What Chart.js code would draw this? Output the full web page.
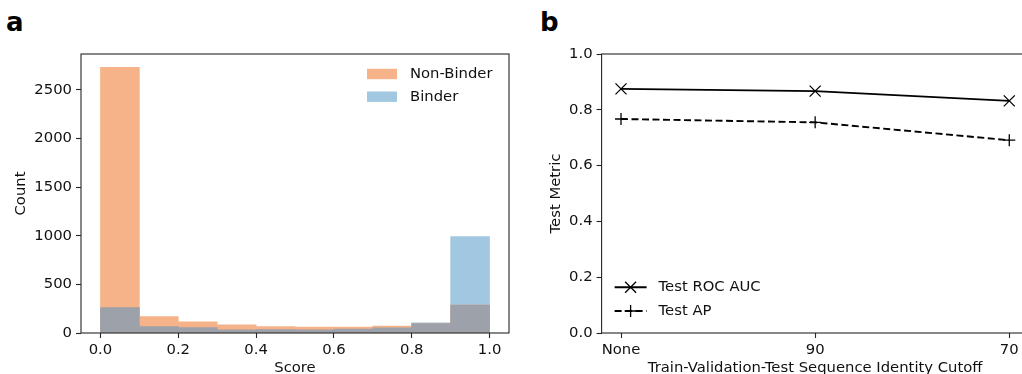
<!DOCTYPE html>
<html>
<head>
<meta charset="utf-8">
<script src="https://cdn.jsdelivr.net/npm/chart.js@4.4.0/dist/chart.umd.min.js"></script>
<style>
  body { margin: 0; width: 1022px; height: 374px; overflow: hidden; position: relative; background: #fff; }
  canvas { position: absolute; top: 0; }
  #hist { left: 0; }
  #metrics { left: 530px; }
  .panel { position: absolute; top: 9px; font: bold 26px/26px 'DejaVu Sans', sans-serif; color: #000; }
</style>
</head>
<body>
<div class="panel" style="left:6px">a</div>
<div class="panel" style="left:540px">b</div>
<canvas id="hist" width="520" height="390"></canvas>
<canvas id="metrics" width="510" height="390"></canvas>
<script>
// Score histogram: 10 bins of width 0.1 between 0 and 1
const binEdges = [0, 0.1, 0.2, 0.3, 0.4, 0.5, 0.6, 0.7, 0.8, 0.9, 1.0];
const nonBinderCounts = [2730, 168, 115, 85, 66, 60, 62, 72, 98, 288];
const binderCounts = [262, 66, 55, 33, 35, 32, 40, 52, 104, 990];
const countTicks = [0, 500, 1000, 1500, 2000, 2500];
const scoreTicks = [0, 0.2, 0.4, 0.6, 0.8, 1.0];

// Test metrics per sequence identity cutoff
const cutoffs = ['None', '90', '70'];
const rocAuc = [0.875, 0.867, 0.832];
const avgPrecision = [0.767, 0.755, 0.691];
const metricTicks = [0, 0.2, 0.4, 0.6, 0.8, 1.0];

const FONT = { family: "'DejaVu Sans', sans-serif", size: 14.8 };
const TEXT = '#111';
const SPINE = '#262626';

const ORANGE = 'rgb(246,179,138)';
const BLUE = 'rgb(162,200,225)';
const OVERLAP = 'rgb(156,161,170)';

const binCenters = binEdges.slice(0, -1).map((e, i) => (e + binEdges[i + 1]) / 2);
const toPoints = vals => vals.map((v, i) => ({ x: binCenters[i], y: v }));

// full box around the plot area (matplotlib style spines)
const frame = {
  id: 'frame',
  afterDatasetsDraw(chart) {
    const { ctx, chartArea: a } = chart;
    ctx.save();
    ctx.strokeStyle = SPINE;
    ctx.lineWidth = 1.1;
    ctx.strokeRect(a.left, a.top, a.right - a.left, a.bottom - a.top);
    ctx.restore();
  }
};

const histLegend = {
  id: 'histLegend',
  afterDraw(chart) {
    const { ctx, chartArea: a } = chart;
    const items = chart.data.datasets.filter(d => d.label);
    ctx.save();
    ctx.font = FONT.size + 'px ' + FONT.family;
    ctx.textBaseline = 'middle';
    items.forEach((d, i) => {
      const y = a.top + 20 + i * 22.7;
      ctx.fillStyle = d.backgroundColor;
      ctx.fillRect(a.right - 142, y - 5.2, 30, 10.4);
      ctx.fillStyle = TEXT;
      ctx.fillText(d.label, a.right - 99, y);
    });
    ctx.restore();
  }
};

const lineLegend = {
  id: 'lineLegend',
  afterDraw(chart) {
    const { ctx, chartArea: a } = chart;
    ctx.save();
    ctx.font = FONT.size + 'px ' + FONT.family;
    ctx.textBaseline = 'middle';
    chart.data.datasets.forEach((d, i) => {
      const y = a.bottom - 45.7 + i * 23.7;
      const x0 = a.left + 13, x1 = a.left + 45;
      ctx.strokeStyle = d.borderColor;
      ctx.lineWidth = d.borderWidth;
      ctx.setLineDash(d.borderDash || []);
      ctx.beginPath();
      ctx.moveTo(x0, y);
      ctx.lineTo(x1, y);
      ctx.stroke();
      ctx.setLineDash([]);
      ctx.lineWidth = d.pointBorderWidth;
      Chart.helpers.drawPoint(ctx, {
        pointStyle: d.pointStyle, radius: d.pointRadius, borderWidth: d.pointBorderWidth, rotation: 0
      }, (x0 + x1) / 2, y);
      ctx.fillStyle = TEXT;
      ctx.fillText(d.label, a.left + 57, y);
    });
    ctx.restore();
  }
};

const tickGrid = {
  offset: false, drawOnChartArea: false, drawTicks: true,
  tickLength: 5, tickColor: SPINE, tickWidth: 1.1
};

new Chart(document.getElementById('hist'), {
  type: 'bar',
  data: {
    datasets: [
      {
        data: toPoints(nonBinderCounts.map((v, i) => Math.min(v, binderCounts[i]))),
        backgroundColor: OVERLAP, order: 0
      },
      { label: 'Non-Binder', data: toPoints(nonBinderCounts), backgroundColor: ORANGE, order: 1 },
      { label: 'Binder', data: toPoints(binderCounts), backgroundColor: BLUE, order: 2 }
    ]
  },
  options: {
    responsive: false,
    animation: false,
    layout: { padding: { left: 0, top: 54, right: 11, bottom: 0 } },
    datasets: { bar: { grouped: false, barPercentage: 1, categoryPercentage: 1, borderWidth: 0 } },
    plugins: { legend: { display: false }, tooltip: { enabled: false } },
    scales: {
      x: {
        type: 'linear', min: -0.05, max: 1.05, offset: false,
        afterBuildTicks: s => { s.ticks = scoreTicks.map(v => ({ value: v })); },
        afterFit: s => { s.height = 57; },
        grid: tickGrid, border: { display: false },
        ticks: { font: FONT, color: TEXT, padding: 3, maxRotation: 0, callback: v => v.toFixed(1) },
        title: { display: true, text: 'Score', font: FONT, color: TEXT, padding: { top: 0, bottom: 13 } }
      },
      y: {
        min: 0, max: Math.max(...nonBinderCounts, ...binderCounts) * 1.05,
        afterBuildTicks: s => { s.ticks = countTicks.map(v => ({ value: v })); },
        afterFit: s => { s.width = 81; },
        grid: tickGrid, border: { display: false },
        ticks: { font: FONT, color: TEXT, padding: 4, callback: v => String(v) },
        title: { display: true, text: 'Count', font: FONT, color: TEXT, padding: { top: 12, bottom: 0 } }
      }
    }
  },
  plugins: [frame, histLegend]
});

new Chart(document.getElementById('metrics'), {
  type: 'line',
  data: {
    datasets: [
      {
        label: 'Test ROC AUC', data: rocAuc.map((v, i) => ({ x: i, y: v })),
        borderColor: '#000', borderWidth: 1.9, pointStyle: 'crossRot', pointRadius: 7.8,
        pointBorderWidth: 1.3, pointBorderColor: '#000', pointBackgroundColor: 'transparent'
      },
      {
        label: 'Test AP', data: avgPrecision.map((v, i) => ({ x: i, y: v })),
        borderColor: '#000', borderWidth: 1.9, borderDash: [7, 3.5], pointStyle: 'cross', pointRadius: 6,
        pointBorderWidth: 1.3, pointBorderColor: '#000', pointBackgroundColor: 'transparent'
      }
    ]
  },
  options: {
    responsive: false,
    animation: false,
    layout: { padding: { left: 0, top: 54, right: 11.3, bottom: 0 } },
    elements: { line: { tension: 0 } },
    plugins: { legend: { display: false }, tooltip: { enabled: false } },
    scales: {
      x: {
        type: 'linear', min: -0.1, max: cutoffs.length - 0.9,
        afterBuildTicks: s => { s.ticks = cutoffs.map((c, i) => ({ value: i })); },
        afterFit: s => { s.height = 57; },
        grid: tickGrid, border: { display: false },
        ticks: { font: FONT, color: TEXT, padding: 3, maxRotation: 0, callback: v => cutoffs[v] },
        title: {
          display: true, text: 'Train-Validation-Test Sequence Identity Cutoff',
          font: FONT, color: TEXT, padding: { top: 0, bottom: 13 }
        }
      },
      y: {
        min: 0, max: 1,
        afterBuildTicks: s => { s.ticks = metricTicks.map(v => ({ value: v })); },
        afterFit: s => { s.width = 71.6; },
        grid: tickGrid, border: { display: false },
        ticks: { font: FONT, color: TEXT, padding: 4, callback: v => v.toFixed(1) },
        title: { display: true, text: 'Test Metric', font: FONT, color: TEXT, padding: { top: 17, bottom: 0 } }
      }
    }
  },
  plugins: [frame, lineLegend]
});
</script>
</body>
</html>
